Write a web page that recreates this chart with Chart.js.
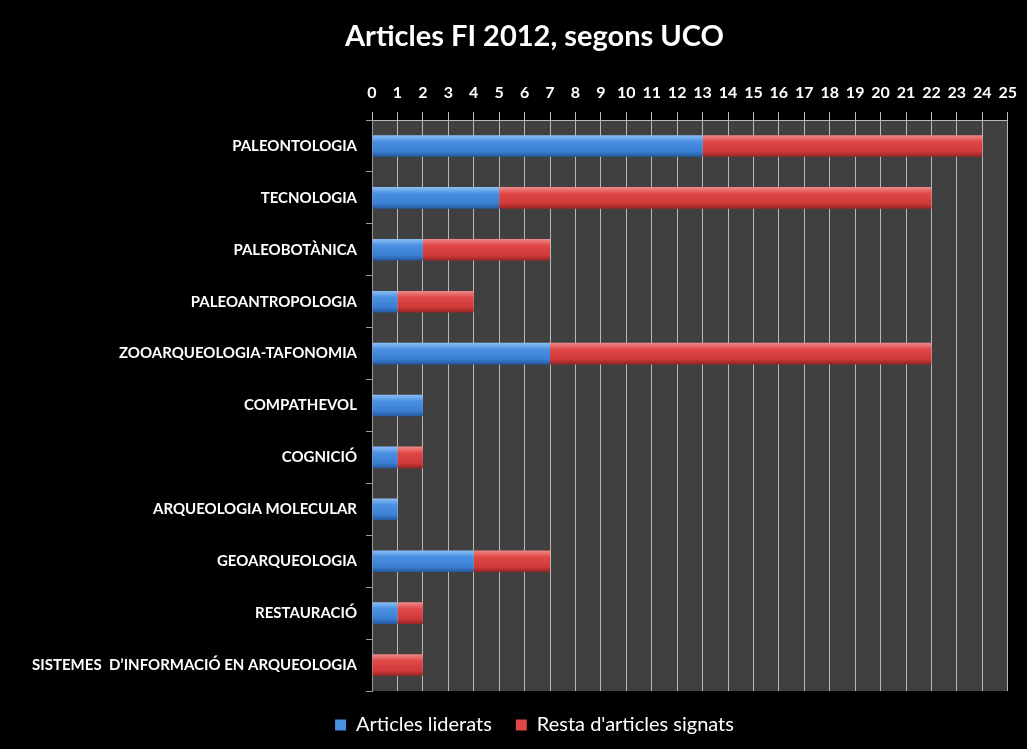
<!DOCTYPE html>
<html>
<head>
<meta charset="utf-8">
<script src="https://cdn.jsdelivr.net/npm/chart.js@4"></script>
<style>
  html, body { margin: 0; padding: 0; background: #000; }
  #wrap { width: 1027px; height: 749px; position: relative; }
</style>
</head>
<body>
<div id="wrap"><canvas id="bar-chart"></canvas></div>
<script>
// categories and values
const categories = [
  'PALEONTOLOGIA',
  'TECNOLOGIA',
  'PALEOBOTÀNICA',
  'PALEOANTROPOLOGIA',
  'ZOOARQUEOLOGIA-TAFONOMIA',
  'COMPATHEVOL',
  'COGNICIÓ',
  'ARQUEOLOGIA MOLECULAR',
  'GEOARQUEOLOGIA',
  'RESTAURACIÓ',
  'SISTEMES  D\u2019INFORMACIÓ EN ARQUEOLOGIA'
];
const articlesLiderats = [13, 5, 2, 1, 7, 2, 1, 1, 4, 1, 0];
const restaArticles    = [11, 17, 5, 3, 15, 0, 1, 0, 3, 1, 2];
const xTicks = [0, 25, 1]; // min, max, step

const labelFont = 'Lato, "Open Sans", sans-serif';
const barPct = 0.52;

// vertical gradient across each bar, like the 3D excel look
function barGradient(stops) {
  return function (context) {
    const chart = context.chart;
    const y = chart.scales.y;
    if (!y || context.dataIndex === undefined) return stops[1];
    const center = y.getPixelForValue(context.dataIndex);
    const step = Math.abs(y.getPixelForValue(1) - y.getPixelForValue(0));
    const h = step * 0.8 * barPct / 2;
    const g = chart.ctx.createLinearGradient(0, center - h, 0, center + h);
    g.addColorStop(0, stops[0]);
    g.addColorStop(0.3, stops[1]);
    g.addColorStop(0.75, stops[2]);
    g.addColorStop(1, stops[3]);
    return g;
  };
}
const blueStops = ['#8cc0f5', '#4a90e2', '#3a7fd4', '#255a9e'];
const redStops  = ['#f08a8a', '#e04848', '#d23a3a', '#972525'];

const plotBg = {
  id: 'plotBg',
  afterLayout(chart) {
    // title and legend sit a bit right of the canvas centre in the original
    if (chart.titleBlock) chart.titleBlock.left += 50;
    if (chart.legend) chart.legend.left += 50;
  },
  beforeDraw(chart) {
    const { ctx, chartArea: a } = chart;
    ctx.save();
    ctx.fillStyle = '#000';
    ctx.fillRect(0, 0, chart.width, chart.height);
    ctx.fillStyle = '#404040';
    ctx.fillRect(a.left, a.top, a.right - a.left, a.bottom - a.top);
    ctx.restore();
  }
};

const ctx = document.getElementById('bar-chart').getContext('2d');
new Chart(ctx, {
  type: 'bar',
  data: {
    labels: categories,
    datasets: [{
      label: 'Articles liderats',
      data: articlesLiderats,
      backgroundColor: barGradient(blueStops),
      borderWidth: 0,
      categoryPercentage: 0.8,
      barPercentage: barPct
    }, {
      label: "Resta d'articles signats",
      data: restaArticles,
      backgroundColor: barGradient(redStops),
      borderWidth: 0,
      categoryPercentage: 0.8,
      barPercentage: barPct
    }]
  },
  options: {
    indexAxis: 'y',
    responsive: true,
    maintainAspectRatio: false,
    animation: false,
    layout: { padding: { left: 0, right: 8, top: 6, bottom: 4 } },
    plugins: {
      title: {
        display: true,
        text: 'Articles FI 2012, segons UCO',
        color: '#fff',
        font: { family: labelFont, size: 29, weight: 'bold' },
        padding: { top: 13, bottom: 19 }
      },
      legend: {
        position: 'bottom',
        labels: {
          color: '#fff',
          font: { family: labelFont, size: 20 },
          usePointStyle: true,
          pointStyle: 'rect',
          boxWidth: 11,
          boxHeight: 11,
          padding: 24,
          generateLabels(chart) {
            return chart.data.datasets.map((ds, i) => ({
              text: ds.label,
              fillStyle: i === 0 ? '#4a90e2' : '#e04848',
              strokeStyle: i === 0 ? '#4a90e2' : '#e04848',
              lineWidth: 0,
              pointStyle: 'rect',
              fontColor: '#fff',
              datasetIndex: i
            }));
          }
        }
      },
      tooltip: { enabled: false }
    },
    scales: {
      x: {
        position: 'top',
        stacked: true,
        min: xTicks[0],
        max: xTicks[1],
        ticks: {
          stepSize: xTicks[2],
          color: '#fff',
          font: { family: labelFont, size: 16, weight: 'bold' },
          padding: 10,
          maxRotation: 0,
          autoSkip: false
        },
        grid: {
          color: '#b8b8b8',
          lineWidth: 1,
          tickLength: 8
        },
        border: { color: '#b8b8b8' }
      },
      y: {
        stacked: true,
        afterFit(scale) { scale.width = 372; },
        ticks: {
          color: '#fff',
          font: { family: labelFont, size: 15, weight: 'bold' },
          padding: 9
        },
        grid: {
          display: true,
          drawOnChartArea: false,
          color: '#9a9a9a',
          tickLength: 6,
          offset: true
        },
        border: { color: '#9a9a9a' }
      }
    }
  },
  plugins: [plotBg]
});
</script>
</body>
</html>
